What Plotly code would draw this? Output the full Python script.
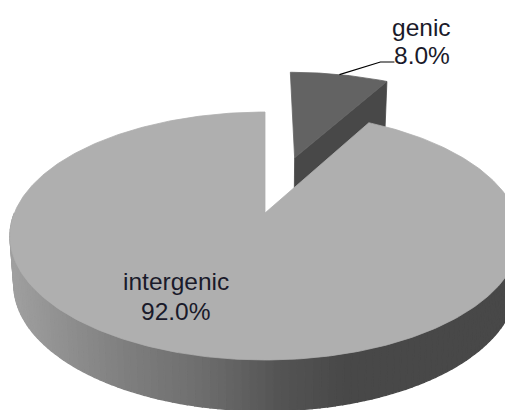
import numpy as np
import plotly.graph_objects as go

# Share of the genome in each class
categories = ["intergenic", "genic"]
percent = [92.0, 8.0]

WIDTH, HEIGHT = 505, 410
FONT = "Liberation Sans"
TOP_COLORS = {"intergenic": "#afafaf", "genic": "#636363"}
CUT_WALL = "#484848"

# Perspective camera for the tilted disc
CX, CY = 265.0, 213.0
AX, AY = 250.6, 119.7
TILT = 0.1855
EXPLODE = 0.52
DROP, FLOOR_X, FLOOR_Y = 48.0, 0.985, 1.02

# Grey ramp along the rim, keyed on horizontal screen position
RIM_X = [10, 60, 120, 200, 280, 350, 505]
RIM_GREY = [160, 145, 128, 110, 84, 72, 72]


def project(u, v):
    w = 1.0 / (1.0 - TILT * v)
    return CX + AX * u * w, CY + AY * v * w


def to_floor(x, y):
    return CX + (x - CX) * FLOOR_X, CY + (y - CY) * FLOOR_Y + DROP


def rim(a0, a1, offset=(0.0, 0.0), n=200):
    # Angles are clockwise from twelve o'clock, in radians
    t = np.linspace(a0, a1, n)
    return project(offset[0] + np.sin(t), offset[1] - np.cos(t))


def polygon(x, y, color, edge=0.8):
    return go.Scatter(x=list(x), y=list(y), mode="lines", fill="toself", fillcolor=color,
                      line=dict(color=color, width=edge), hoverinfo="skip", showlegend=False)


fracs = np.array(percent) / sum(percent)
sweep_genic = 2 * np.pi * fracs[categories.index("genic")]
mid = sweep_genic / 2
shift = (EXPLODE * np.sin(mid), -EXPLODE * np.cos(mid))

fig = go.Figure()

# Exploded slice: visible cut wall, then its top face
apex_x, apex_y = project(*shift)
end_x, end_y = project(shift[0] + np.sin(sweep_genic), shift[1] - np.cos(sweep_genic))
fx0, fy0 = to_floor(apex_x, apex_y)
fx1, fy1 = to_floor(end_x, end_y)
fig.add_trace(polygon([apex_x, end_x, fx1, fx0, apex_x], [apex_y, end_y, fy1, fy0, apex_y], CUT_WALL))
gx, gy = rim(0, sweep_genic, shift)
fig.add_trace(polygon(np.r_[apex_x, gx, apex_x], np.r_[apex_y, gy, apex_y], TOP_COLORS["genic"]))

# Main slice: shaded rim in narrow strips, then the top face over it
edges = np.linspace(np.pi / 2, 3 * np.pi / 2, 121)
for a0, a1 in zip(edges[:-1], edges[1:]):
    tx, ty = rim(a0, a1, n=4)
    bx, by = to_floor(tx, ty)
    g = int(np.interp((tx[0] + tx[-1]) / 2, RIM_X, RIM_GREY))
    fig.add_trace(polygon(np.r_[tx, bx[::-1], tx[0]], np.r_[ty, by[::-1], ty[0]], f"rgb({g},{g},{g})", edge=1.3))

mx, my = rim(sweep_genic, 2 * np.pi, n=400)
fig.add_trace(polygon(np.r_[CX, mx, CX], np.r_[CY, my, CY], TOP_COLORS["intergenic"]))

# Leader from the middle of the small slice's arc to its label
lx, ly = project(shift[0] + np.sin(mid), shift[1] - np.cos(mid))
fig.add_trace(go.Scatter(x=[lx, lx + 41, lx + 55], y=[ly, 62, 62], mode="lines",
                         line=dict(color="#000000", width=1.2), hoverinfo="skip", showlegend=False))

# Two-line labels
label_pos = {"intergenic": (175.5, 281, 311), "genic": (421.5, 27, 55)}
annotations = []
for name, pct in zip(categories, percent):
    px, y1, y2 = label_pos[name]
    for line, py in ((name, y1), (f"{pct:.1f}%", y2)):
        annotations.append(dict(x=px, y=py, xref="x", yref="y", text=line, showarrow=False,
                                xanchor="center", yanchor="middle",
                                font=dict(family=FONT, size=24.5, color="#1a1a2a")))

fig.update_layout(
    width=WIDTH, height=HEIGHT,
    margin=dict(l=0, r=0, t=0, b=0),
    paper_bgcolor="white", plot_bgcolor="white",
    showlegend=False, annotations=annotations,
    xaxis=dict(range=[0, WIDTH], visible=False, fixedrange=True),
    yaxis=dict(range=[HEIGHT, 0], visible=False, fixedrange=True),
)

fig.write_html("out.html", config=dict(displayModeBar=False))
